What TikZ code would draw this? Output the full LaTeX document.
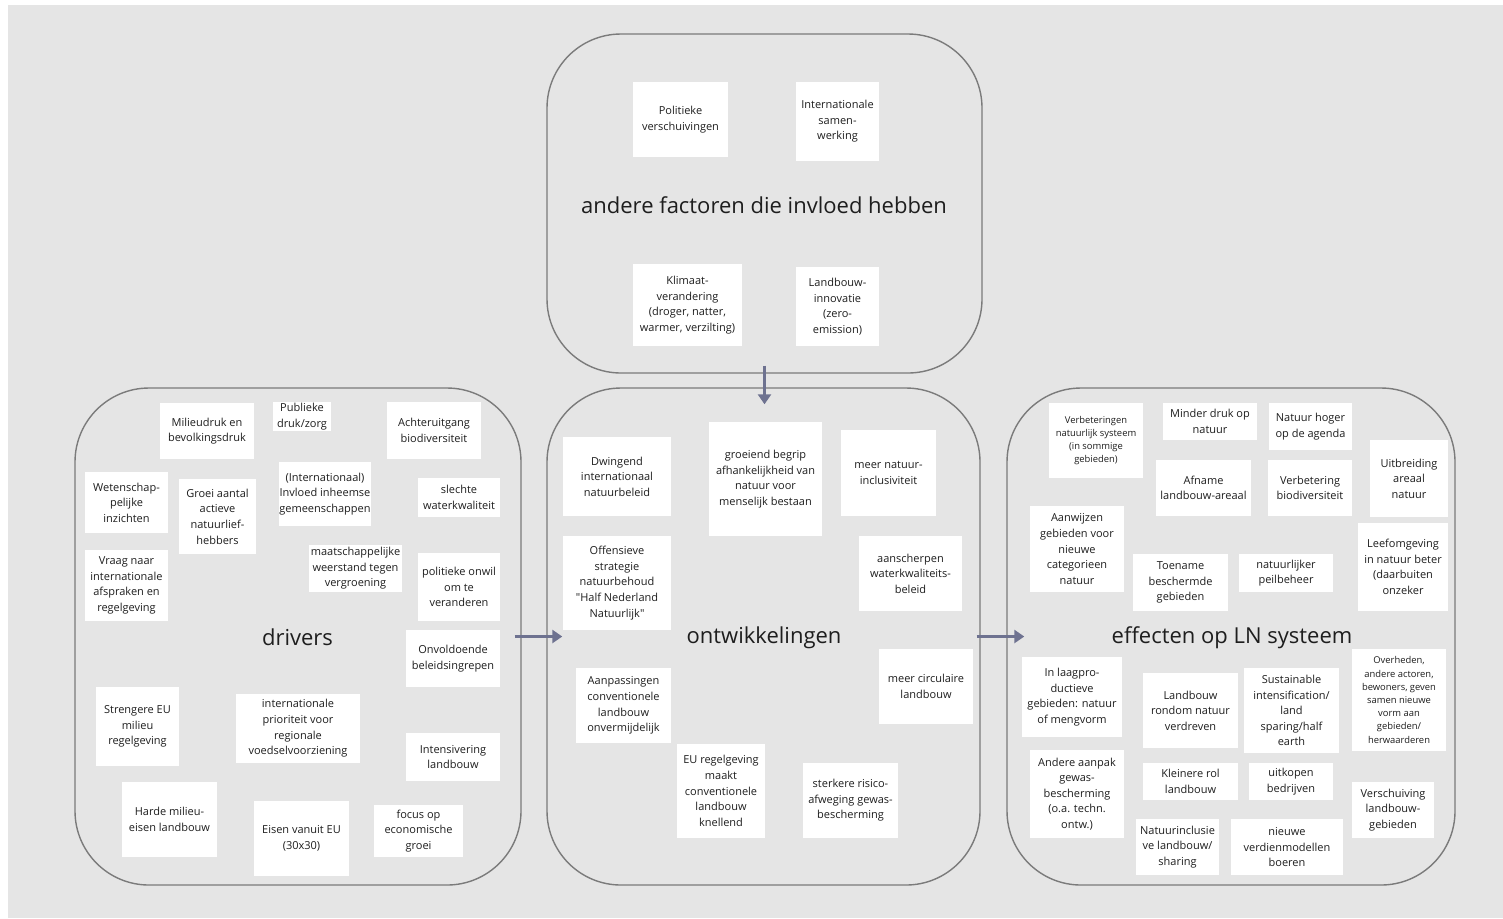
\documentclass[tikz,border=0pt]{standalone}
\usepackage{fontspec}
\setmainfont{Open Sans}
% a second family without the TeX mapping, so that " stays straight
\newfontfamily\straightfont{Open Sans}
\usetikzlibrary{arrows.meta}
\definecolor{canvas}{HTML}{E5E5E5}
\definecolor{frame}{HTML}{7B7B7B}
\definecolor{flowc}{HTML}{6E7290}
\definecolor{ink}{HTML}{1E1E1E}

\begin{document}
\begin{tikzpicture}[x=0.5pt,y=-0.5pt,
  panel/.style={draw=frame, line width=0.7pt, fill=canvas, rounded corners=37pt, inner sep=0pt},
  sz/.style 2 args={minimum width=#1*0.5pt, minimum height=#2*0.5pt},
  note/.style={fill=white, inner sep=0pt, align=center, text=ink, font=\fontsize{5.5}{7.8}\selectfont},
  smalltext/.style={font=\fontsize{4.7}{6.6}\selectfont},
  title/.style={text=ink, font=\fontsize{11}{13}\selectfont, inner sep=0pt},
  flow/.style={draw=flowc, line width=1.6pt, -{Triangle[length=5pt,width=6.5pt]}}
]
% canvas
\useasboundingbox (0,0) rectangle (1503,918);
\fill[canvas] (8,5) rectangle (1503,918);

% the four panels
\node[panel, sz={435}{339}] (top) at (764.5,203.5) {};
\node[panel, sz={446}{497}] (drivers) at (298,636.5) {};
\node[panel, sz={433}{497}] (ontw) at (763.5,636.5) {};
\node[panel, sz={448}{497}] (eff) at (1231,636.5) {};

% panel titles
\node[title] (ttop) at (764,205) {andere factoren die invloed hebben};
\node[title] (tdrivers) at (297.5,637) {drivers};
\node[title] (tontw) at (764,638) {ontwikkelingen};
\node[title] (teff) at (1232,638) {effecten op LN systeem};

% other factors
\node[note, sz={95}{75}] (t1) at (680.5,119.5) {Politieke\\verschuivingen};
\node[note, sz={83}{79}] (t2) at (837.5,121.5) {Internationale\\samen-\\werking};
\node[note, sz={109}{82}] (t3) at (687.5,305) {Klimaat-\\verandering\\(droger, natter,\\warmer, verzilting)};
\node[note, sz={83}{79}] (t4) at (837.5,306.5) {Landbouw-\\innovatie\\(zero-\\emission)};

% drivers
\node[note, sz={94}{56}] (d1) at (207,431) {Milieudruk en\\bevolkingsdruk};
\node[note, sz={58}{29}] (d2) at (302,416.5) {Publieke\\druk/zorg};
\node[note, sz={94}{57}] (d3) at (434,430.5) {Achteruitgang\\biodiversiteit};
\node[note, sz={83}{61}] (d4) at (126.5,502.5) {Wetenschap-\\pelijke\\inzichten};
\node[note, sz={77}{75}] (d5) at (217.5,516.5) {Groei aantal\\actieve\\natuurlief-\\hebbers};
\node[note, sz={86}{64}] (d6) at (325,494) {(Internationaal)\\Invloed inheemse\\gemeenschappen};
\node[note, sz={82}{39}] (d7) at (459,497.5) {slechte\\waterkwaliteit};
\node[note, sz={93}{47}] (d8) at (355.5,568.5) {maatschappelijke\\weerstand tegen\\vergroening};
\node[note, sz={82}{68}] (d9) at (459,587) {politieke onwil\\om te\\veranderen};
\node[note, sz={83}{71}] (d10) at (126.5,585.5) {Vraag naar\\internationale\\afspraken en\\regelgeving};
\node[note, sz={94}{57}] (d11) at (453,658.5) {Onvoldoende\\beleidsingrepen};
\node[note, sz={83}{79}] (d12) at (137.5,726.5) {Strengere EU\\milieu\\regelgeving};
\node[note, sz={124}{69}] (d13) at (298,728.5) {internationale\\prioriteit voor\\regionale\\voedselvoorziening};
\node[note, sz={94}{48}] (d14) at (453,757) {Intensivering\\landbouw};
\node[note, sz={95}{75}] (d15) at (169.5,819.5) {Harde milieu-\\eisen landbouw};
\node[note, sz={95}{75}] (d16) at (301.5,838.5) {Eisen vanuit EU\\(30x30)};
\node[note, sz={89}{52}] (d17) at (418.5,831) {focus op\\economische\\groei};

% developments
\node[note, sz={108}{79}] (o1) at (617,476.5) {Dwingend\\internationaal\\natuurbeleid};
\node[note, sz={113}{114}] (o2) at (765.5,479) {groeiend begrip\\afhankelijkheid van\\natuur voor\\menselijk bestaan};
\node[note, sz={95}{86}] (o3) at (888.5,473) {meer natuur-\\inclusiviteit};
\node[note, sz={108}{94}] (o4) at (617,583) {Offensieve\\strategie\\natuurbehoud\\{\straightfont"}Half Nederland\\Natuurlijk{\straightfont"}};
\node[note, sz={103}{75}] (o5) at (910.5,573.5) {aanscherpen\\waterkwaliteits-\\beleid};
\node[note, sz={95}{75}] (o6) at (623.5,705.5) {Aanpassingen\\conventionele\\landbouw\\onvermijdelijk};
\node[note, sz={94}{75}] (o7) at (926,686.5) {meer circulaire\\landbouw};
\node[note, sz={88}{94}] (o8) at (721,791) {EU regelgeving\\maakt\\conventionele\\landbouw\\knellend};
\node[note, sz={95}{75}] (o9) at (850.5,800.5) {sterkere risico-\\afweging gewas-\\bescherming};

% effects
\node[note, smalltext, sz={94}{75}] (e1) at (1096,440.5) {Verbeteringen\\natuurlijk systeem\\(in sommige\\gebieden)};
\node[note, sz={94}{37}] (e2) at (1210,421.5) {Minder druk op\\natuur};
\node[note, sz={83}{47}] (e3) at (1310.5,426.5) {Natuur hoger\\op de agenda};
\node[note, sz={78}{77}] (e4) at (1409,478.5) {Uitbreiding\\areaal\\natuur};
\node[note, sz={95}{56}] (e5) at (1203.5,488) {Afname\\landbouw-areaal};
\node[note, sz={84}{56}] (e6) at (1310,488) {Verbetering\\biodiversiteit};
\node[note, sz={94}{86}] (e7) at (1077,549) {Aanwijzen\\gebieden voor\\nieuwe\\categorieen\\natuur};
\node[note, sz={95}{57}] (e8) at (1180.5,582.5) {Toename\\beschermde\\gebieden};
\node[note, sz={94}{38}] (e9) at (1286,573) {natuurlijker\\peilbeheer};
\node[note, sz={90}{88}] (e10) at (1403,567) {Leefomgeving\\in natuur beter\\(daarbuiten\\onzeker};
\node[note, sz={100}{80}] (e11) at (1072,697) {In laagpro-\\ductieve\\gebieden: natuur\\of mengvorm};
\node[note, sz={95}{75}] (e12) at (1190.5,710.5) {Landbouw\\rondom natuur\\verdreven};
\node[note, sz={95}{85}] (e13) at (1291.5,710.5) {Sustainable\\intensification/\\land\\sparing/half\\earth};
\node[note, smalltext, sz={94}{102}] (e14) at (1399,700) {Overheden,\\andere actoren,\\bewoners, geven\\samen nieuwe\\vorm aan\\gebieden/\\herwaarderen};
\node[note, sz={94}{88}] (e15) at (1077,794) {Andere aanpak\\gewas-\\bescherming\\(o.a. techn.\\ontw.)};
\node[note, sz={95}{37}] (e16) at (1190.5,781.5) {Kleinere rol\\landbouw};
\node[note, sz={84}{37}] (e17) at (1291,781.5) {uitkopen\\bedrijven};
\node[note, sz={82}{56}] (e18) at (1393,810) {Verschuiving\\landbouw-\\gebieden};
\node[note, sz={83}{56}] (e19) at (1177.5,847) {Natuurinclusie\\ve landbouw/\\sharing};
\node[note, sz={112}{56}] (e20) at (1287,847) {nieuwe\\verdienmodellen\\boeren};

% flows between the panels
\draw[flow, shorten <=-3.5pt, shorten >=-8pt] (drivers.east) -- (ontw.west);
\draw[flow, shorten <=-2pt, shorten >=-9pt] (ontw.east) -- (eff.west);
\draw[flow, shorten <=-4pt, shorten >=-8.5pt] (top.south) -- (top.south |- ontw.north);
\end{tikzpicture}
\end{document}
